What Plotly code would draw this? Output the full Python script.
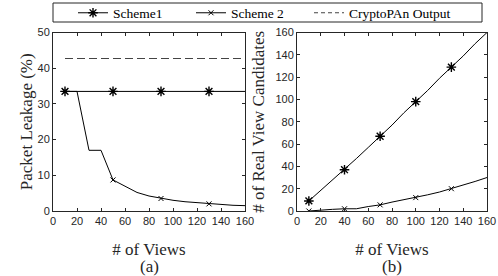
import plotly.graph_objects as go

views = [10, 20, 30, 40, 50, 60, 70, 80, 90, 100, 110, 120, 130, 140, 150, 160]
leak_scheme1 = [33.5, 33.5, 33.5, 33.5, 33.5, 33.5, 33.5, 33.5, 33.5, 33.5, 33.5, 33.5, 33.5, 33.5, 33.5, 33.5]
leak_scheme2 = [33.5, 33.5, 17.0, 17.0, 8.7, 6.9, 5.2, 4.2, 3.5, 3.0, 2.6, 2.3, 2.0, 1.8, 1.6, 1.5]
crypto_x = [10, 160]
crypto_y = [42.7, 42.7]
leak_mark_views = [10, 50, 90, 130]
leak_mark_s1 = [33.5, 33.5, 33.5, 33.5]
leak_mark_s2 = [33.5, 8.7, 3.5, 2.0]

cand_scheme1 = [9, 18.5, 28, 37, 47, 57, 67, 77, 88, 98, 108, 119, 129, 139, 150, 160]
cand_scheme2 = [0, 1, 1.5, 2, 2, 4, 5.5, 8, 10, 12, 14.5, 17, 20, 23, 26.5, 30]
cand_mark_views = [10, 40, 70, 100, 130]
cand_mark_s1 = [9, 37, 67, 98, 129]
cand_mark_s2 = [0, 2, 5.5, 12, 20]

x_ticks = [0, 20, 40, 60, 80, 100, 120, 140, 160]
left_y_ticks = [0, 10, 20, 30, 40, 50]
right_y_ticks = [0, 20, 40, 60, 80, 100, 120, 140, 160]

BLACK = "#000000"
AX = "#262626"
W, H = 498, 276

fig = go.Figure()
line = dict(color=BLACK, width=1)
dash_line = dict(color="#444444", width=1.1, dash="8px,4px")
s1m = dict(symbol="asterisk-open", size=8, color=BLACK, line=dict(color=BLACK, width=1.4))
s2m = dict(symbol="x-thin-open", size=5, color=BLACK, line=dict(color=BLACK, width=1))

# left plot
fig.add_trace(go.Scatter(x=views, y=leak_scheme1, mode="lines", line=line, showlegend=False, xaxis="x", yaxis="y"))
fig.add_trace(go.Scatter(x=views, y=leak_scheme2, mode="lines", line=line, showlegend=False, xaxis="x", yaxis="y"))
fig.add_trace(go.Scatter(x=crypto_x, y=crypto_y, mode="lines", line=dash_line, showlegend=False, xaxis="x", yaxis="y"))
fig.add_trace(go.Scatter(x=leak_mark_views, y=leak_mark_s2, mode="markers", marker=s2m, showlegend=False, xaxis="x", yaxis="y"))
fig.add_trace(go.Scatter(x=leak_mark_views, y=leak_mark_s1, mode="markers", marker=s1m, showlegend=False, xaxis="x", yaxis="y"))

# right plot
fig.add_trace(go.Scatter(x=views, y=cand_scheme1, mode="lines", line=line, showlegend=False, xaxis="x2", yaxis="y2"))
fig.add_trace(go.Scatter(x=views, y=cand_scheme2, mode="lines", line=line, showlegend=False, xaxis="x2", yaxis="y2"))
fig.add_trace(go.Scatter(x=cand_mark_views, y=cand_mark_s1, mode="markers", marker=s1m, showlegend=False, xaxis="x2", yaxis="y2"))
fig.add_trace(go.Scatter(x=cand_mark_views, y=cand_mark_s2, mode="markers", marker=s2m, showlegend=False, xaxis="x2", yaxis="y2"))

# legend entries, each in its own legend for exact placement
fig.add_trace(go.Scatter(x=[None], y=[None], mode="lines+markers", line=line, marker=s1m, name="Scheme1",
                         xaxis="x", yaxis="y", legend="legend"))
fig.add_trace(go.Scatter(x=[None], y=[None], mode="lines+markers", line=line, marker=s2m, name="Scheme 2",
                         xaxis="x", yaxis="y", legend="legend2"))
fig.add_trace(go.Scatter(x=[None], y=[None], mode="lines", line=dict(color="#444444", width=1.1, dash="4px,3px"),
                         name="CryptoPAn Output", xaxis="x", yaxis="y", legend="legend3"))

ytop = 1 - 32.5 / H
ybot = 1 - 211 / H
tickfont = dict(family="Liberation Sans, Arial, sans-serif", size=11, color=AX)
xtitlefont = dict(family="Liberation Serif, Times New Roman, serif", size=17, color=AX)
ytitlefont = dict(family="Liberation Serif, Times New Roman, serif", size=17, color=AX)
legfont = dict(family="Liberation Serif, Times New Roman, serif", size=13.5, color=BLACK)

def xax(dom, anchor):
    return dict(domain=dom, anchor=anchor, range=[0, 160], tickvals=x_ticks, ticks="inside", ticklen=3,
                tickcolor=AX, showline=True, linecolor=AX, linewidth=1, mirror="ticks", showgrid=False,
                zeroline=False, tickfont=tickfont, automargin=False,
                title=dict(text="# of Views", font=xtitlefont, standoff=16))

def yax(rng, tv, anchor, title, standoff):
    return dict(domain=[ybot, ytop], anchor=anchor, range=rng, tickvals=tv, ticks="inside", ticklen=3,
                tickcolor=AX, showline=True, linecolor=AX, linewidth=1, mirror="ticks", showgrid=False,
                zeroline=False, tickfont=tickfont, automargin=False,
                title=dict(text=title, font=ytitlefont, standoff=standoff))

def leg(xpx):
    return dict(orientation="h", x=xpx / W, xanchor="left", y=1 - 13 / H, yanchor="middle",
                borderwidth=0, bgcolor="rgba(0,0,0,0)", font=legfont, itemwidth=30)

fig.update_layout(
    width=W, height=H, margin=dict(l=0, r=0, t=0, b=0, autoexpand=False),
    paper_bgcolor="white", plot_bgcolor="white",
    xaxis=xax([53 / W, 245 / W], "y"),
    yaxis=yax([0, 50], left_y_ticks, "x", "Packet Leakage (%)", 0),
    xaxis2=xax([297 / W, 487 / W], "y2"),
    yaxis2=yax([0, 160], right_y_ticks, "x2", "# of Real View Candidates", 6),
    legend=leg(73),
    legend2=leg(191),
    legend3=leg(309),
    shapes=[dict(type="rect", xref="paper", yref="paper", x0=53 / W, x1=482 / W, y0=1 - 22 / H, y1=1 - 3 / H,
                 line=dict(color=AX, width=1), fillcolor="rgba(0,0,0,0)", layer="above")],
    annotations=[
        dict(text="(a)", x=(53 + 245) / 2 / W, y=1 - 266 / H, xref="paper", yref="paper", showarrow=False,
             font=xtitlefont, xanchor="center", yanchor="middle"),
        dict(text="(b)", x=(297 + 487) / 2 / W, y=1 - 266 / H, xref="paper", yref="paper", showarrow=False,
             font=xtitlefont, xanchor="center", yanchor="middle"),
    ],
)

fig.write_html("out.html", config={"displayModeBar": False},
               post_script="document.body.style.margin='0';")
